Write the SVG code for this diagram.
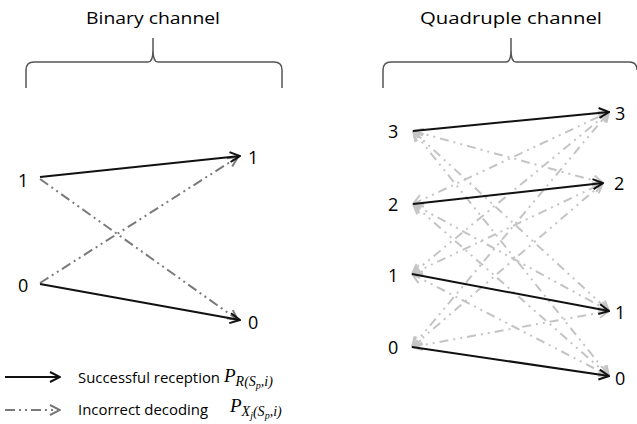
<svg xmlns="http://www.w3.org/2000/svg" width="637" height="424" viewBox="0 0 637 424">
<style>
.t{font-family:"Open Sans","Liberation Sans",sans-serif;fill:#000}
.title{font-size:17px}
.lbl{font-size:18px}
.leg{font-size:15px}
.m{font-family:"Liberation Serif",serif;font-style:italic;fill:#000}
.brace{fill:none;stroke:#555;stroke-width:1.5}
.ok{fill:none;stroke:#111;stroke-width:2}
.err{fill:none;stroke:#7a7a7a;stroke-width:2;stroke-dasharray:10 4 2 4 2 4}
.err4{fill:none;stroke:#c4c4c4;stroke-width:2;stroke-dasharray:9 5 2 5 2 5}
</style>
<defs>
<marker id="ab" viewBox="0 0 12 12" refX="11" refY="6" markerWidth="12" markerHeight="12" markerUnits="userSpaceOnUse" orient="auto">
<path d="M1,1 L11,6 L1,11" fill="none" stroke="#111" stroke-width="2"/>
</marker>
<marker id="ag" viewBox="0 0 12 12" refX="11" refY="6" markerWidth="12" markerHeight="12" markerUnits="userSpaceOnUse" orient="auto">
<path d="M1,1 L11,6 L1,11" fill="none" stroke="#7a7a7a" stroke-width="2"/>
</marker>
<marker id="al" viewBox="0 0 12 12" refX="11" refY="6" markerWidth="12" markerHeight="12" markerUnits="userSpaceOnUse" orient="auto-start-reverse">
<path d="M1,1 L11,6 L1,11" fill="none" stroke="#c4c4c4" stroke-width="2"/>
</marker>
</defs>
<rect width="637" height="424" fill="#fff"/>

<g id="binary-title">
<text class="t title" x="153" y="24" text-anchor="middle" textLength="134" lengthAdjust="spacingAndGlyphs">Binary channel</text>
<path class="brace" d="M26,88 L26,70 Q26,62 34,62 L148,62 Q153,62 153,50 L153,38 M153,38 L153,50 Q153,62 158,62 L274,62 Q282,62 282,70 L282,88"/>
</g>
<g id="quad-title">
<text class="t title" x="511" y="24" text-anchor="middle" textLength="182" lengthAdjust="spacingAndGlyphs">Quadruple channel</text>
<path class="brace" d="M383,88 L383,70 Q383,62 391,62 L506,62 Q511,62 511,50 L511,38 M511,38 L511,50 Q511,62 516,62 L629,62 Q637,62 637,70"/>
</g>

<g id="binary-nodes">
<g id="b-in1"><text class="t lbl" x="18" y="187">1</text></g>
<g id="b-in0"><text class="t lbl" x="18" y="292">0</text></g>
<g id="b-out1"><text class="t lbl" x="248" y="164">1</text></g>
<g id="b-out0"><text class="t lbl" x="248" y="329">0</text></g>
</g>

<g id="quad-nodes">
<g id="q-in3"><text class="t lbl" x="388" y="138">3</text></g>
<g id="q-in2"><text class="t lbl" x="388" y="211">2</text></g>
<g id="q-in1"><text class="t lbl" x="388" y="282">1</text></g>
<g id="q-in0"><text class="t lbl" x="388" y="354">0</text></g>
<g id="q-out3"><text class="t lbl" x="615" y="120">3</text></g>
<g id="q-out2"><text class="t lbl" x="614" y="190">2</text></g>
<g id="q-out1"><text class="t lbl" x="615" y="319">1</text></g>
<g id="q-out0"><text class="t lbl" x="615" y="385">0</text></g>
</g>

<g id="connectors">
<line class="err" x1="40" y1="179" x2="238" y2="320" marker-end="url(#ag)"/>
<line class="err" x1="40" y1="283" x2="238" y2="157" marker-end="url(#ag)"/>
<line class="ok" x1="40" y1="177" x2="240" y2="156" marker-end="url(#ab)"/>
<line class="ok" x1="40" y1="284" x2="240" y2="320" marker-end="url(#ab)"/>

<g id="quad-errors">
<line class="err4" x1="413" y1="131" x2="603" y2="183" marker-start="url(#al)" marker-end="url(#al)"/>
<line class="err4" x1="413" y1="131" x2="609" y2="311" marker-start="url(#al)" marker-end="url(#al)"/>
<line class="err4" x1="413" y1="131" x2="609" y2="376" marker-start="url(#al)" marker-end="url(#al)"/>
<line class="err4" x1="413" y1="204" x2="609" y2="112" marker-start="url(#al)" marker-end="url(#al)"/>
<line class="err4" x1="413" y1="204" x2="609" y2="311" marker-start="url(#al)" marker-end="url(#al)"/>
<line class="err4" x1="413" y1="204" x2="609" y2="376" marker-start="url(#al)" marker-end="url(#al)"/>
<line class="err4" x1="412" y1="274" x2="609" y2="112" marker-start="url(#al)" marker-end="url(#al)"/>
<line class="err4" x1="412" y1="274" x2="603" y2="183" marker-start="url(#al)" marker-end="url(#al)"/>
<line class="err4" x1="412" y1="274" x2="609" y2="376" marker-start="url(#al)" marker-end="url(#al)"/>
<line class="err4" x1="412" y1="347" x2="609" y2="112" marker-start="url(#al)" marker-end="url(#al)"/>
<line class="err4" x1="412" y1="347" x2="603" y2="183" marker-start="url(#al)" marker-end="url(#al)"/>
<line class="err4" x1="412" y1="347" x2="609" y2="311" marker-start="url(#al)" marker-end="url(#al)"/>
</g>
<line class="ok" x1="413" y1="131" x2="609" y2="112" marker-end="url(#ab)"/>
<line class="ok" x1="413" y1="204" x2="603" y2="183" marker-end="url(#ab)"/>
<line class="ok" x1="412" y1="274" x2="609" y2="311" marker-end="url(#ab)"/>
<line class="ok" x1="412" y1="347" x2="609" y2="376" marker-end="url(#ab)"/>
</g>

<g id="legend">
<line class="ok" x1="5" y1="377" x2="60" y2="377" marker-end="url(#ab)"/>
<text class="t leg" x="78" y="383" textLength="142" lengthAdjust="spacingAndGlyphs">Successful reception</text>
<text class="m" x="224" y="382" font-size="19">P<tspan font-size="14" dy="4">R</tspan><tspan font-size="14">(S</tspan><tspan font-size="10" dy="3">p</tspan><tspan font-size="14" dy="-3">,i)</tspan></text>
<line class="err" x1="5" y1="410" x2="60" y2="410" stroke-dasharray="12 4 2 4 2 4" marker-end="url(#ag)"/>
<text class="t leg" x="78" y="415" textLength="130" lengthAdjust="spacingAndGlyphs">Incorrect decoding</text>
<text class="m" x="230" y="412" font-size="19">P<tspan font-size="14" dy="4">X</tspan><tspan font-size="10" dy="3">j</tspan><tspan font-size="14" dy="-3">(S</tspan><tspan font-size="10" dy="3">p</tspan><tspan font-size="14" dy="-3">,i)</tspan></text>
</g>
</svg>
